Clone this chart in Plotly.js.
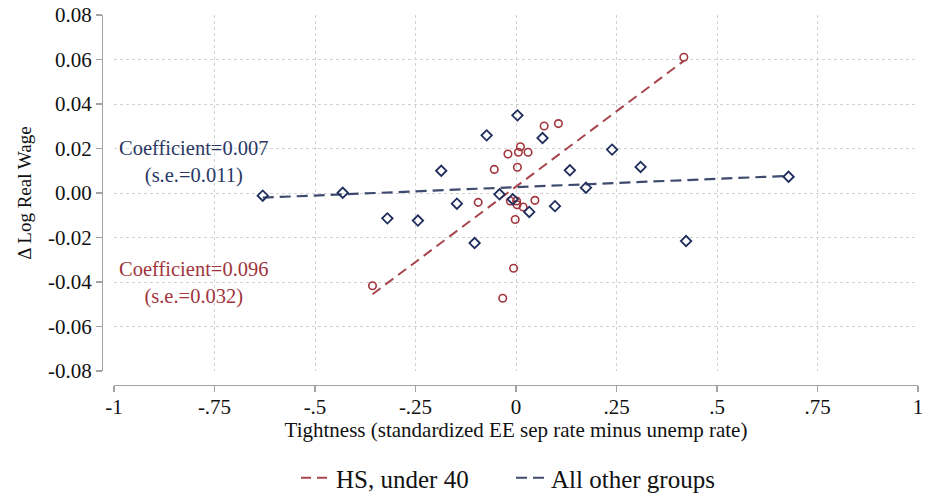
<!DOCTYPE html>
<html><head><meta charset="utf-8">
<script src="https://cdn.plot.ly/plotly-3.0.1.min.js"></script>
<style>html,body{margin:0;padding:0;background:#fff}#chart{width:928px;height:497px}</style>
</head><body><div id="chart"></div>
<script>
// ---- data ----
const seriesNames = ['HS, under 40', 'All other groups'];

const hsX = [-0.357, -0.094, -0.054, -0.033, -0.020, -0.014, -0.006, -0.002, 0.0015, 0.0027, 0.0177, 0.0035, 0.006, 0.011, 0.030, 0.047, 0.070, 0.1055, 0.4175];
const hsY = [-0.0417, -0.0042, 0.0106, -0.0473, 0.0175, -0.0036, -0.0338, -0.0119, -0.0036, -0.0053, -0.0063, 0.0116, 0.0183, 0.0208, 0.0183, -0.0033, 0.0301, 0.0312, 0.0610];

const othX = [-0.630, -0.431, -0.320, -0.244, -0.186, -0.147, -0.103, -0.073, -0.041, -0.008, 0.0035, 0.033, 0.066, 0.097, 0.134, 0.174, 0.239, 0.310, 0.423, 0.678];
const othY = [-0.0012, 0.0001, -0.0114, -0.0124, 0.0100, -0.0048, -0.0225, 0.0259, -0.0006, -0.0028, 0.0349, -0.0085, 0.0247, -0.0059, 0.0102, 0.0024, 0.0195, 0.0117, -0.0216, 0.0073];

const hsFitX = [-0.357, 0.4175];
const hsFitY = [-0.0455, 0.0594];
const othFitX = [-0.630, 0.678];
const othFitY = [-0.0021, 0.0077];

const hsCoefText = ['Coefficient=0.096', '(s.e.=0.032)'];
const othCoefText = ['Coefficient=0.007', '(s.e.=0.011)'];

const xTickVals = [-1, -0.75, -0.5, -0.25, 0, 0.25, 0.5, 0.75, 1];
const xTickText = ['-1', '-.75', '-.5', '-.25', '0', '.25', '.5', '.75', '1'];
const yTickVals = [-0.08, -0.06, -0.04, -0.02, 0, 0.02, 0.04, 0.06, 0.08];
const yTickText = ['-0.08', '-0.06', '-0.04', '-0.02', '0.00', '0.02', '0.04', '0.06', '0.08'];

const xTitle = 'Tightness (standardized EE sep rate minus unemp rate)';
const yTitle = '\u0394 Log Real Wage';

// ---- styling ----
const RED = '#a1353d', RED_LINE = '#a8464d';
const BLUE = '#1f2d5c', BLUE_LINE = '#3e4b6f';
const FONT = 'Liberation Serif, Times New Roman, serif';
const AXC = '#a3a3a3', GRID = '#d2d2d2';

const traces = [
  {x: hsFitX, y: hsFitY, type: 'scatter', mode: 'lines', name: seriesNames[0],
   line: {color: RED_LINE, width: 2, dash: '10px,6px'}, hoverinfo: 'skip'},
  {x: othFitX, y: othFitY, type: 'scatter', mode: 'lines', name: seriesNames[1],
   line: {color: BLUE_LINE, width: 2.2, dash: '11px,6px'}, hoverinfo: 'skip'},
  {x: hsX, y: hsY, type: 'scatter', mode: 'markers', name: seriesNames[0], showlegend: false,
   marker: {symbol: 'circle-open', size: 7.5, color: RED, line: {width: 1.6, color: RED}}},
  {x: othX, y: othY, type: 'scatter', mode: 'markers', name: seriesNames[1], showlegend: false,
   marker: {symbol: 'diamond-open', size: 8, color: BLUE, line: {width: 1.8, color: BLUE}}}
];

const mL = 102, mR = 10, mT = 15, mB = 112;
const plotW = 928 - mL - mR, plotH = 497 - mT - mB;

function ann(lines, x, y, color) {
  return {text: lines.join('<br>'), x: x, y: y, xref: 'x', yref: 'y', showarrow: false,
          xanchor: 'center', yanchor: 'middle', align: 'center',
          font: {family: FONT, size: 20.5, color: color}};
}

const layout = {
  width: 928, height: 497,
  margin: {l: mL, r: mR, t: mT, b: mB, autoexpand: false},
  paper_bgcolor: '#ffffff', plot_bgcolor: '#ffffff',
  font: {family: FONT, size: 21, color: '#111'},
  showlegend: true,
  xaxis: {
    domain: [(114 - mL) / plotW, 1], range: [-1, 1],
    anchor: 'free', position: 0, automargin: false,
    tickvals: xTickVals, ticktext: xTickText,
    ticks: 'outside', ticklen: 6, tickwidth: 1.3, tickcolor: AXC,
    ticklabelstandoff: -4,
    showline: true, linecolor: AXC, linewidth: 1.3,
    showgrid: true, gridcolor: GRID, gridwidth: 1, griddash: 'dot',
    zeroline: false,
    tickfont: {family: FONT, size: 21, color: '#111'},
    title: {text: xTitle, font: {family: FONT, size: 21, color: '#111'}, standoff: 4}
  },
  yaxis: {
    domain: [14 / plotH, 1], range: [-0.08, 0.08],
    anchor: 'free', position: 0, automargin: false,
    tickvals: yTickVals, ticktext: yTickText,
    ticks: 'outside', ticklen: 6, tickwidth: 1.3, tickcolor: AXC,
    showline: true, linecolor: AXC, linewidth: 1.3,
    showgrid: true, gridcolor: GRID, gridwidth: 1, griddash: 'dot',
    zeroline: false,
    tickfont: {family: FONT, size: 21, color: '#111'},
    title: {text: yTitle, font: {family: FONT, size: 19, color: '#111'}, standoff: 10}
  },
  legend: {
    orientation: 'h', x: (296 - mL) / plotW, xanchor: 'left',
    y: (385 - 478) / plotH, yanchor: 'middle',
    font: {family: FONT, size: 25, color: '#111'},
    itemwidth: 30, entrywidth: 170, bgcolor: 'rgba(0,0,0,0)'
  },
  annotations: [
    ann(othCoefText, -0.801, 0.0141, '#2a3866'),
    ann(hsCoefText, -0.801, -0.0405, '#a1353d')
  ]
};

Plotly.newPlot('chart', traces, layout, {displayModeBar: false, staticPlot: true});
</script>
</body></html>
